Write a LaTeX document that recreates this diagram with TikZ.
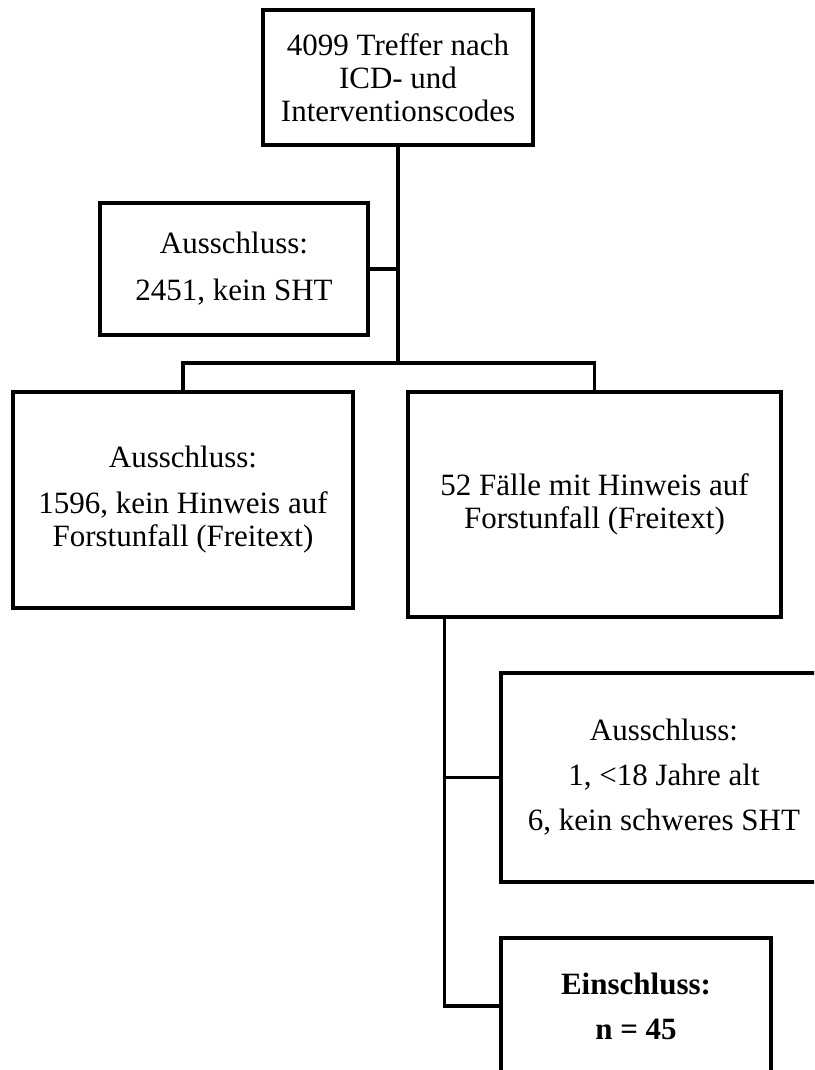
\documentclass[tikz,border=0pt]{standalone}
\usepackage{fontspec}
\setmainfont{Liberation Serif}
\begin{document}
\begin{tikzpicture}[x=1pt,y=-1pt,
  box/.style={draw=black,line width=3.3pt,rectangle,inner sep=0pt,align=center,
    font=\fontsize{31}{33}\selectfont},
  conn/.style={draw=black,line width=3.3pt}]
\useasboundingbox (0,0) rectangle (814,1070);
\clip (0,0) rectangle (814,1070);
\node[box,minimum width=270pt,minimum height=135pt] (b1) at (398,77.5)
  {4099 Treffer nach\\ICD- und\\Interventionscodes};
\node[box,minimum width=268pt,minimum height=132pt] (b2) at (234,269)
  {Ausschluss:\\[14pt]2451, kein SHT};
\node[box,minimum width=340pt,minimum height=216pt] (b3) at (183,500)
  {Ausschluss:\\[13pt]1596, kein Hinweis auf\\Forstunfall (Freitext)};
\node[box,minimum width=373pt,minimum height=225pt] (b4) at (594.5,504.5)
  {52 Fälle mit Hinweis auf\\Forstunfall (Freitext)};
\node[box,minimum width=326pt,minimum height=209pt] (b5) at (664,777.5)
  {Ausschluss:\\[12pt]1, <18 Jahre alt\\[12pt]6, kein schweres SHT};
\node[box,minimum width=270pt,minimum height=136pt,font=\fontsize{31}{33}\selectfont\bfseries] (b6) at (636,1006)
  {Einschluss:\\[12pt]n = 45};
\coordinate (j) at (398,363);
\coordinate (s4) at ([xshift=38pt]b4.south west);
\draw[conn] (b1.south) -- (j);
\draw[conn] (b2.east) -- (b2.east -| j);
\draw[conn] (b3.north) |- (j) -| (b4.north);
\draw[conn] (s4) |- (b6.west);
\draw[conn] (s4 |- b5.west) -- (b5.west);
\end{tikzpicture}
\end{document}
